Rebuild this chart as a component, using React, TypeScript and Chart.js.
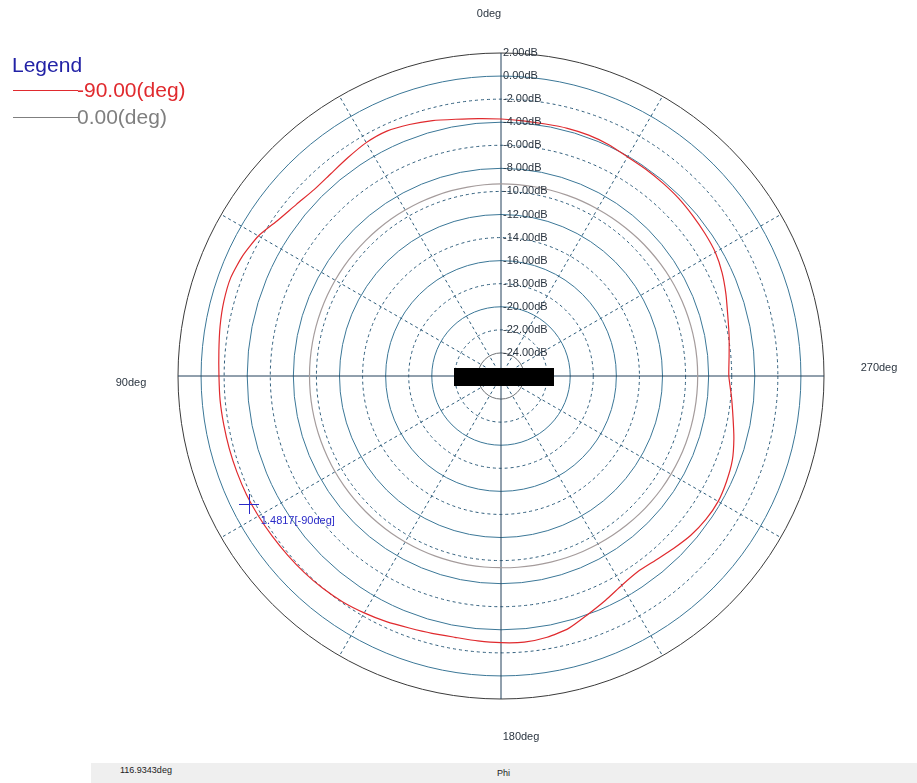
import { useEffect, useRef } from 'react';
import { Chart, registerables } from 'chart.js';

Chart.register(...registerables);

// ---- data ----
const anglesDeg = [
  0, 5, 10, 15, 20, 25, 30, 35, 40, 45, 50, 55, 60, 65, 70, 75, 80, 85,
  90, 95, 100, 105, 110, 115, 120, 125, 130, 135, 140, 145, 150, 155, 160, 165, 170, 175,
  180, 185, 190, 195, 200, 205, 210, 215, 220, 225, 230, 235, 240, 245, 250, 255, 260, 265,
  270, 275, 280, 285, 290, 295, 300, 305, 310, 315, 320, 325, 330, 335, 340, 345, 350, 355,
];

const redSeriesDb = [
  -3.72, -3.6, -3.4, -3.08, -2.8, -2.58, -2.64, -2.88, -3.08, -3.12, -2.85, -2.42, -1.72, -1.3, -1.07, -1.12, -1.27, -1.45,
  -1.55, -1.56, -1.6, -1.62, -1.64, -1.66, -1.72, -1.79, -1.85, -1.9, -1.97, -2.09, -2.29, -2.5, -2.75, -2.9, -3.0, -2.95,
  -2.88, -2.84, -3.0, -3.35, -4.0, -4.55, -5.05, -5.3, -5.15, -4.85, -4.52, -4.32, -4.26, -4.42, -4.66, -5.1, -5.58, -5.95,
  -6.25, -6.15, -5.92, -5.65, -5.25, -4.85, -4.55, -4.43, -4.33, -4.22, -4.17, -4.12, -4.07, -3.88, -3.78, -3.77, -3.82, -3.8,
];

const graySeriesDb = [
  -9.35, -9.36, -9.37, -9.37, -9.38, -9.38, -9.39, -9.39, -9.4, -9.4, -9.4, -9.4, -9.4, -9.4, -9.4, -9.4, -9.4, -9.4,
  -9.4, -9.4, -9.4, -9.4, -9.4, -9.4, -9.39, -9.39, -9.39, -9.39, -9.39, -9.38, -9.38, -9.38, -9.38, -9.38, -9.38, -9.38,
  -9.38, -9.36, -9.33, -9.3, -9.26, -9.22, -9.18, -9.14, -9.1, -9.06, -9.03, -9.0, -8.98, -8.96, -8.95, -8.95, -8.95, -8.95,
  -8.95, -8.95, -8.96, -8.98, -9.0, -9.03, -9.06, -9.1, -9.14, -9.18, -9.22, -9.25, -9.28, -9.3, -9.32, -9.33, -9.34, -9.35,
];

const seriesNames = ['-90.00(deg)', '0.00(deg)'];
const legendTitle = 'Legend';

const dbMin = -26;
const dbMax = 2;
const dbStep = 2;

const axisAngleValues = [0, 90, 180, 270];
const axisAngleLabels = ['0deg', '90deg', '180deg', '270deg'];

const markerAngleDeg = 116.9343;
const markerValueDb = -1.4817;
const markerText = '1.4817[-90deg]';

const statusAngleText = '116.9343deg';
const statusAxisText = 'Phi';

// ---- styles ----
const RED = '#e02a2e';
const GRAY_LINE = '#a59c9c';
const GRAY_LEGEND = '#7f7f7f';
const RING_SOLID = '#3b7797';
const RING_DASH = '#2f5d7b';
const AXIS_MAIN = '#22415a';
const OUTER = '#3a3a3a';
const TEXT = '#2b3540';
const BLUE = '#2a2ac8';
const FONT = '"Liberation Sans", Arial, sans-serif';

const n = anglesDeg.length;
// radar runs clockwise; this plot runs counter-clockwise from the top
const radarAngles = anglesDeg.map((_, i) => anglesDeg[(n - i) % n]);
const redRadar = anglesDeg.map((_, i) => redSeriesDb[(n - i) % n]);
const grayRadar = anglesDeg.map((_, i) => graySeriesDb[(n - i) % n]);
const angleToIndex = (deg: number) => ((360 - deg) % 360) / (360 / n);

const overlayPlugin = {
  id: 'polarOverlay',
  afterDraw(chart: any) {
    const s = chart.scales.r;
    const ctx = chart.ctx as CanvasRenderingContext2D;
    const xC = s.xCenter;
    const yC = s.yCenter;
    const R = s.getDistanceFromCenterForValue(dbMax);
    ctx.save();

    // radial tick labels, left-aligned just right of the vertical axis
    ctx.font = `11px ${FONT}`;
    ctx.fillStyle = TEXT;
    ctx.textAlign = 'left';
    ctx.textBaseline = 'middle';
    s.ticks.forEach((t: any) => {
      if (t.value <= dbMin) return;
      const d = s.getDistanceFromCenterForValue(t.value);
      ctx.fillText(t.label, xC + 2, yC - d);
    });

    // axis angle labels
    const offs: Record<number, [number, number, number]> = {
      0: [39, -12, 0],
      90: [47, 0, 7],
      180: [38, 20, 0],
      270: [55, 0, -8],
    };
    ctx.textAlign = 'center';
    axisAngleValues.forEach((a, k) => {
      const [extra, dx, dy] = offs[a];
      const p = s.getPointPosition(angleToIndex(a), R + extra);
      ctx.fillText(axisAngleLabels[k], p.x + dx, p.y + dy);
    });

    // marker
    const mp = s.getPointPosition(angleToIndex(markerAngleDeg), s.getDistanceFromCenterForValue(markerValueDb));
    ctx.strokeStyle = BLUE;
    ctx.lineWidth = 1;
    ctx.beginPath();
    ctx.moveTo(Math.round(mp.x) - 10, Math.round(mp.y) + 0.5);
    ctx.lineTo(Math.round(mp.x) + 10, Math.round(mp.y) + 0.5);
    ctx.moveTo(Math.round(mp.x) + 0.5, Math.round(mp.y) - 10);
    ctx.lineTo(Math.round(mp.x) + 0.5, Math.round(mp.y) + 10);
    ctx.stroke();
    ctx.fillStyle = BLUE;
    ctx.textAlign = 'left';
    ctx.font = `11px ${FONT}`;
    ctx.fillText(markerText, mp.x + 12, mp.y + 17);

    // centre redaction block
    ctx.fillStyle = '#000';
    ctx.fillRect(xC - 47, yC - 8, 100, 18);

    // legend
    ctx.textBaseline = 'alphabetic';
    ctx.font = `21px ${FONT}`;
    ctx.fillStyle = '#2222a6';
    ctx.fillText(legendTitle, 12, 72);
    const legendColors = [RED, GRAY_LEGEND];
    const legendY = [90.5, 117.5];
    const legendBase = [97, 124];
    seriesNames.forEach((name, k) => {
      ctx.strokeStyle = legendColors[k];
      ctx.lineWidth = 1;
      ctx.setLineDash([]);
      ctx.beginPath();
      ctx.moveTo(13, legendY[k]);
      ctx.lineTo(78, legendY[k]);
      ctx.stroke();
      ctx.fillStyle = legendColors[k];
      ctx.fillText(name, 77, legendBase[k]);
    });

    ctx.restore();
  },
};

export default function App() {
  const ref = useRef<HTMLCanvasElement>(null);

  useEffect(() => {
    document.body.style.margin = '0';
    const chart = new Chart(ref.current as HTMLCanvasElement, {
      type: 'radar',
      data: {
        labels: radarAngles.map((a) => String(a)),
        datasets: [
          {
            label: seriesNames[1],
            data: grayRadar,
            borderColor: GRAY_LINE,
            borderWidth: 1.2,
            pointRadius: 0,
            fill: false,
            tension: 0.2,
          },
          {
            label: seriesNames[0],
            data: redRadar,
            borderColor: RED,
            borderWidth: 1.2,
            pointRadius: 0,
            fill: false,
            tension: 0.2,
          },
        ],
      },
      options: {
        responsive: false,
        animation: false,
        devicePixelRatio: 1,
        events: [],
        layout: { padding: { left: 178, right: 92, top: 53, bottom: 83 } },
        plugins: { legend: { display: false }, tooltip: { enabled: false }, title: { display: false } },
        scales: {
          r: {
            min: dbMin,
            max: dbMax,
            ticks: {
              display: false,
              stepSize: dbStep,
              callback: (v: any) => Number(v).toFixed(2) + 'dB',
            },
            pointLabels: { display: false },
            grid: {
              circular: true,
              lineWidth: 1,
              color: (c: any) => {
                const v = c.tick ? c.tick.value : 0;
                if (v <= dbMin) return 'rgba(0,0,0,0)';
                if (v >= dbMax) return OUTER;
                if (v === -24) return '#6f7275';
                if (v % 4 === 0) return RING_SOLID;
                return RING_DASH;
              },
            },
            border: {
              dash: (c: any) => {
                const v = c.tick ? c.tick.value : 0;
                if (v >= dbMax || v <= dbMin) return [];
                return Math.abs(v % 4) === 2 ? [3, 3] : [];
              },
            },
            angleLines: {
              display: true,
              color: (c: any) => {
                const a = radarAngles[c.index];
                return a % 90 === 0 ? AXIS_MAIN : RING_DASH;
              },
              lineWidth: (c: any) => {
                const a = radarAngles[c.index];
                return a % 30 === 0 ? 1 : 0;
              },
              borderDash: (c: any) => {
                const a = radarAngles[c.index];
                return a % 90 === 0 ? [] : [3, 3];
              },
            },
          },
        },
      } as any,
      plugins: [overlayPlugin],
    });
    return () => chart.destroy();
  }, []);

  return (
    <div style={{ position: 'relative', width: 917, height: 783, background: '#fff', overflow: 'hidden' }}>
      <canvas ref={ref} width={917} height={783} style={{ position: 'absolute', left: 0, top: 0 }} />
      <div style={{ position: 'absolute', left: 91, top: 763, width: 826, height: 20, background: '#efefef' }} />
      <div style={{ position: 'absolute', left: 120, top: 765, font: `9px ${FONT}`, color: '#222', whiteSpace: 'nowrap' }}>
        {statusAngleText}
      </div>
      <div style={{ position: 'absolute', left: 497, top: 768, font: `9px ${FONT}`, color: '#222', whiteSpace: 'nowrap' }}>
        {statusAxisText}
      </div>
    </div>
  );
}
